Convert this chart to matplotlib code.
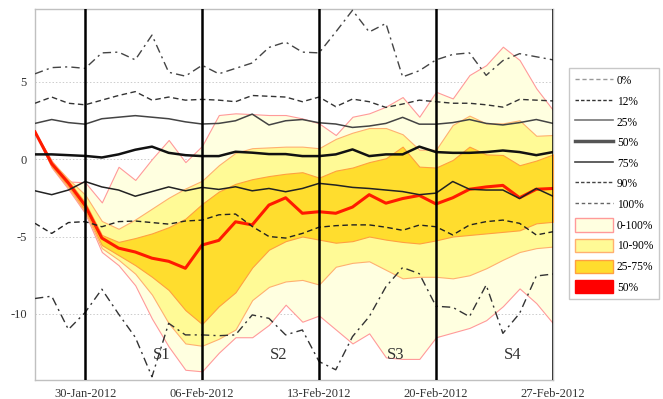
import matplotlib
matplotlib.use("Agg")
import matplotlib.pyplot as plt
import matplotlib.dates as mdates
from matplotlib.lines import Line2D
from matplotlib.patches import Patch
import pandas as pd

# daily values, 27-Jan-2012 .. 27-Feb-2012
dates = pd.date_range("2012-01-27", periods=32, freq="D")

# historical quantile lines
q0 = [5.5, 5.9, 5.95, 5.85, 6.85, 6.9, 6.4, 8.0, 5.6, 5.35, 6.05, 5.5, 5.85, 6.2, 7.2, 7.55,
      6.9, 6.85, 8.2, 9.6, 8.2, 8.75, 5.3, 5.7, 6.4, 6.75, 6.85, 5.4, 6.35, 6.8, 6.6, 6.4]
q12 = [3.6, 4.0, 3.6, 3.5, 3.8, 4.1, 4.35, 3.8, 4.0, 3.8, 3.85, 3.8, 3.7, 4.1, 4.05, 4.0,
       3.7, 4.0, 3.38, 3.87, 3.7, 3.33, 3.55, 3.8, 3.7, 3.6, 3.6, 3.5, 3.35, 3.85, 3.8, 3.75]
q25 = [2.3, 2.55, 2.35, 2.25, 2.6, 2.7, 2.8, 2.7, 2.6, 2.4, 2.26, 2.3, 2.47, 2.9, 2.2, 2.47,
       2.55, 2.34, 2.26, 2.04, 2.13, 2.3, 2.69, 2.25, 2.25, 2.35, 2.55, 2.3, 2.2, 2.35, 2.55, 2.3]
q50 = [0.3, 0.3, 0.25, 0.2, 0.1, 0.3, 0.6, 0.8, 0.4, 0.25, 0.19, 0.19, 0.47, 0.41, 0.32, 0.32,
       0.19, 0.19, 0.3, 0.62, 0.19, 0.3, 0.3, 0.8, 0.45, 0.4, 0.4, 0.45, 0.55, 0.45, 0.25, 0.45]
q75 = [-2.05, -2.3, -2.0, -1.45, -1.8, -2.0, -2.4, -2.1, -1.8, -2.05, -1.83, -1.96, -1.79, -2.05, -1.9, -2.11,
       -1.9, -1.57, -1.68, -1.83, -1.9, -2.0, -2.1, -2.3, -2.2, -1.45, -1.95, -2.0, -2.0, -2.55, -1.9, -2.4]
q90 = [-4.15, -4.8, -4.1, -4.04, -4.37, -4.04, -4.0, -4.1, -4.2, -4.0, -3.94, -3.6, -3.55, -4.35, -5.0, -5.1,
       -4.8, -4.4, -4.3, -4.25, -4.25, -4.4, -4.6, -4.26, -4.37, -4.9, -4.26, -4.04, -3.94, -4.15, -4.9, -4.69]
q100 = [-9.0, -8.85, -11.0, -9.9, -8.4, -10.0, -11.5, -14.05, -10.6, -11.35, -11.35, -11.4, -11.35, -10.06, -10.28, -11.35,
        -11.03, -13.07, -13.6, -11.46, -10.17, -8.24, -7.0, -7.4, -9.5, -9.57, -10.17, -8.13, -11.25, -9.96, -7.55, -7.42]

# forecast fan
f50 = [1.75, -0.3, -1.55, -3.0, -5.1, -5.75, -6.0, -6.4, -6.6, -7.05, -5.55, -5.25, -4.05, -4.25, -2.97, -2.5,
       -3.5, -3.4, -3.5, -3.1, -2.3, -2.85, -2.55, -2.35, -2.9, -2.5, -1.95, -1.8, -1.7, -2.5, -1.95, -1.9]
f25_hi = [1.75, -0.2, -1.4, -2.8, -4.9, -5.35, -5.1, -4.8, -4.4, -3.85, -2.9, -2.1, -1.6, -1.3, -1.1, -0.95,
          -0.85, -1.2, -0.75, -0.55, -0.2, 0.05, 0.8, -0.49, -0.55, -0.06, 0.8, 0.3, 0.26, -0.4, -0.1, 0.3]
f25_lo = [1.75, -0.45, -1.75, -3.3, -5.55, -6.2, -6.85, -7.6, -8.45, -9.75, -10.65, -9.5, -8.6, -7.0, -5.85, -5.3,
          -5.0, -5.2, -5.4, -5.3, -5.0, -5.2, -5.35, -5.45, -5.25, -5.0, -4.9, -4.8, -4.7, -4.6, -4.15, -4.05]
f10_hi = [1.75, -0.15, -1.3, -2.3, -4.0, -4.5, -3.9, -3.2, -2.5, -1.9, -1.4, -0.4, 0.4, 0.7, 0.75, 0.8,
          0.8, 0.7, 1.3, 1.7, 2.0, 2.0, 1.6, 0.6, 0.6, 2.2, 2.8, 2.3, 2.3, 2.5, 1.5, 1.55]
f10_lo = [1.75, -0.5, -1.85, -3.4, -5.75, -6.5, -7.4, -8.75, -10.6, -11.9, -12.05, -11.6, -11.0, -9.1, -8.25, -7.9,
          -7.8, -8.1, -6.95, -6.7, -6.6, -7.15, -7.7, -7.6, -7.6, -7.7, -7.5, -7.05, -6.5, -6.0, -5.75, -5.65]
f0_hi = [1.75, -0.1, -1.45, -1.5, -2.8, -0.5, -1.35, 0.0, 1.23, -0.2, 0.85, 2.84, 2.95, 2.9, 2.84, 2.84,
         2.62, 2.3, 1.55, 2.73, 2.95, 3.38, 4.0, 2.73, 4.34, 3.91, 5.42, 6.06, 7.25, 6.39, 4.56, 3.16]
f0_lo = [1.75, -0.55, -1.95, -3.5, -6.0, -6.85, -8.15, -10.3, -12.1, -13.6, -13.7, -12.5, -11.5, -11.5, -10.7, -9.4,
         -10.5, -10.1, -11.0, -11.9, -11.25, -12.8, -12.9, -12.9, -11.5, -11.2, -10.9, -10.4, -9.5, -8.35, -9.3, -10.6]

week_lines = ["2012-01-30", "2012-02-06", "2012-02-13", "2012-02-20", "2012-02-27"]
week_names = ["S1", "S2", "S3", "S4"]
week_label_pos = ["2012-02-03 14:00", "2012-02-10 14:00", "2012-02-17 14:00", "2012-02-24 14:00"]

serif = "Liberation Serif"
plt.rcParams["font.family"] = serif

fig = plt.figure(figsize=(6.63, 3.99), dpi=100)
ax = fig.add_axes([35 / 663, 1 - 380 / 399, (553 - 35) / 663, (380 - 9.5) / 399])

c_pale, e_pale = "#FFFFE0", "#FF9A9A"
c_yel, e_yel = "#FFFA96", "#FFB070"
c_gold, e_gold = "#FFDD2E", "#FFA040"

ax.fill_between(dates, f0_lo, f0_hi, facecolor=c_pale, edgecolor=e_pale, lw=0.8, zorder=1)
ax.fill_between(dates, f10_lo, f10_hi, facecolor=c_yel, edgecolor=e_yel, lw=0.8, zorder=2)
ax.fill_between(dates, f25_lo, f25_hi, facecolor=c_gold, edgecolor=e_gold, lw=0.8, zorder=3)
ax.plot(dates, f50, color="#FF1A00", lw=2.2, zorder=4)

dashdot = (0, (6, 3, 1.5, 3))
dashed = (0, (4, 2.5))
ax.plot(dates, q0, color="#444444", lw=1, ls=dashdot, zorder=5)
ax.plot(dates, q12, color="#333333", lw=1, ls=dashed, zorder=5)
ax.plot(dates, q25, color="#444444", lw=1.1, zorder=5)
ax.plot(dates, q50, color="#111111", lw=1.8, zorder=5)
ax.plot(dates, q75, color="#222222", lw=1.1, zorder=5)
ax.plot(dates, q90, color="#222222", lw=1, ls=dashed, zorder=5)
ax.plot(dates, q100, color="#333333", lw=1, ls=dashdot, zorder=5)

for d in week_lines:
    ax.axvline(pd.Timestamp(d), color="black", lw=1.8, zorder=6)
for name, pos in zip(week_names, week_label_pos):
    ax.text(pd.Timestamp(pos), -12.65, name, ha="center", va="center",
            fontsize=12, color="#333333", zorder=7)

ax.set_xlim(dates[0], dates[-1])
ax.set_ylim(-14.26, 9.65)
ax.set_yticks([5, 0, -5, -10])
ax.set_yticklabels(["5", "0", "-5", "-10"])
ax.set_xticks([pd.Timestamp(d) for d in week_lines])
ax.xaxis.set_major_formatter(mdates.DateFormatter("%d-%b-%Y"))
ax.tick_params(length=0, labelsize=9, colors="#333333", pad=6)
ax.grid(axis="y", color="#cccccc", ls=(0, (1.5, 2)), lw=0.7)
ax.set_axisbelow(True)
for s in ax.spines.values():
    s.set_color("#c0c0c0")
    s.set_linewidth(1)

handles = [
    Line2D([], [], color="#999999", lw=1, ls=(0, (3, 2))),
    Line2D([], [], color="#333333", lw=1, ls=(0, (2.5, 1.5))),
    Line2D([], [], color="#777777", lw=1.2),
    Line2D([], [], color="#555555", lw=2.5),
    Line2D([], [], color="#444444", lw=1.2),
    Line2D([], [], color="#444444", lw=1, ls=(0, (2.5, 1.5))),
    Line2D([], [], color="#666666", lw=1, ls=(0, (2.5, 2))),
    Patch(facecolor=c_pale, edgecolor=e_pale),
    Patch(facecolor=c_yel, edgecolor=e_yel),
    Patch(facecolor=c_gold, edgecolor=e_gold),
    Patch(facecolor="#FF0000", edgecolor="#FF0000"),
]
labels = ["0%", "12%", "25%", "50%", "75%", "90%", "100%", "0-100%", "10-90%", "25-75%", "50%"]
leg = fig.legend(handles, labels, loc="upper left", bbox_to_anchor=(569 / 663, 1 - 68 / 399),
                 frameon=True, fancybox=False, edgecolor="#bbbbbb", fontsize=8.3,
                 handlelength=3.3, handleheight=1.4, labelspacing=0.62, borderpad=0.5,
                 borderaxespad=0, handletextpad=0.35)
leg.get_frame().set_linewidth(1)

fig.savefig("out.png", dpi=100)
